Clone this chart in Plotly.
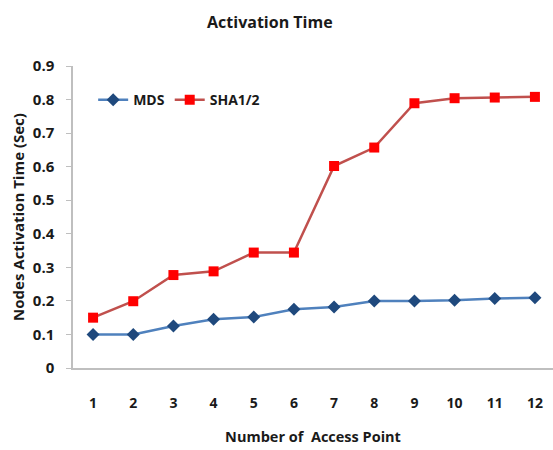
import plotly.graph_objects as go

access_points = [1, 2, 3, 4, 5, 6, 7, 8, 9, 10, 11, 12]
mds = [0.100, 0.100, 0.125, 0.145, 0.152, 0.175, 0.182, 0.200, 0.200, 0.202, 0.207, 0.209]
sha = [0.150, 0.199, 0.277, 0.288, 0.344, 0.344, 0.602, 0.657, 0.789, 0.804, 0.806, 0.808]
y_ticks = [0, 0.1, 0.2, 0.3, 0.4, 0.5, 0.6, 0.7, 0.8, 0.9]
y_labels = ["0", "0.1", "0.2", "0.3", "0.4", "0.5", "0.6", "0.7", "0.8", "0.9"]

FONT = "Open Sans"
fig = go.Figure()
fig.add_trace(go.Scatter(
    x=access_points, y=mds, name="<b>MDS</b>", mode="lines+markers",
    line=dict(color="#4F81BD", width=2.5),
    marker=dict(symbol="diamond", size=10, color="#1F497D"),
))
fig.add_trace(go.Scatter(
    x=access_points, y=sha, name="<b>SHA1/2</b>", mode="lines+markers",
    line=dict(color="#C0504D", width=2.5),
    marker=dict(symbol="square", size=10, color="#FF0000"),
))

fig.update_layout(
    width=553, height=450,
    margin=dict(l=73, r=0, t=66, b=82),
    paper_bgcolor="white", plot_bgcolor="white",
    font=dict(family=FONT, color="#1a1a1a", size=14),
    title=dict(text="<b>Activation Time</b>", x=0.488, xanchor="center", y=0.95, yanchor="middle",
               font=dict(family=FONT, size=16, color="#1a1a1a")),
    showlegend=True,
    legend=dict(orientation="h", x=0.042, xanchor="left", y=0.887, yanchor="middle",
                bgcolor="rgba(0,0,0,0)", font=dict(family=FONT, size=14, color="#1a1a1a"),
                itemwidth=30, tracegroupgap=0),
)
fig.update_xaxes(
    range=[0.5, 12.45], tickmode="array", tickvals=access_points,
    ticktext=[f"<b>{v}</b>" for v in access_points],
    showline=True, linecolor="#BFBFBF", linewidth=1.5, showgrid=False, zeroline=False,
    ticks="", ticklabelstandoff=21,
    tickfont=dict(family=FONT, size=14, color="#1a1a1a"),
    title=dict(text="<b>Number of  Access Point</b>", standoff=21,
               font=dict(family=FONT, size=14.5, color="#1a1a1a")),
)
fig.update_yaxes(
    range=[0, 0.9], tickmode="array", tickvals=y_ticks,
    ticktext=[f"<b>{t}</b>" for t in y_labels],
    showline=True, linecolor="#BFBFBF", linewidth=1.5, showgrid=False, zeroline=False,
    ticks="outside", ticklen=5, tickcolor="#BFBFBF", ticklabelstandoff=9,
    tickfont=dict(family=FONT, size=15, color="#1a1a1a"),
    title=dict(text="<b>Nodes Activation Time (Sec)</b>", standoff=5,
               font=dict(family=FONT, size=15, color="#1a1a1a")),
)

fig.write_html("out.html", config={"displayModeBar": False},
               post_script="document.body.style.margin='0';document.body.style.padding='0';")
